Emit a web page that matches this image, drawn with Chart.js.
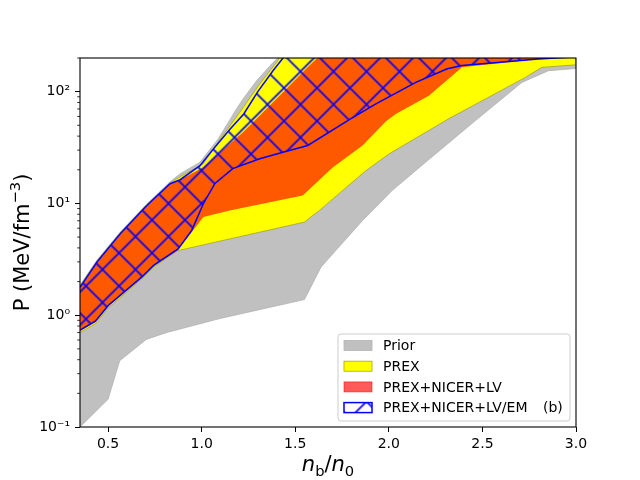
<!DOCTYPE html>
<html><head><meta charset="utf-8">
<script src="https://cdn.jsdelivr.net/npm/chart.js@4.4.1/dist/chart.umd.min.js"></script>
<style>html,body{margin:0;padding:0;background:#fff}#wrap{width:640px;height:480px}</style>
</head><body><div id="wrap"><canvas id="c" width="640" height="480"></canvas></div>
<script>
// ---- data (x = n_b/n_0, P in MeV/fm^-3) ----
const priorUpperX = [0.35,0.441,0.565,0.707,0.831,0.885,0.991,1.088,1.186,1.221,1.293,1.381,1.427,3.0];
const priorUpperP = [1.86,3.12,5.55,9.9,15.6,18.4,23.4,37.8,70.1,86.1,125,182,215,250];
const priorLowerX = [0.35,0.50,0.562,0.704,0.814,1.098,1.549,1.638,1.860,2.019,2.197,2.463,2.711,2.853,3.0];
const priorLowerP = [0.10,0.177,0.391,0.607,0.701,0.934,1.38,2.70,7.05,13.1,23.4,55.1,121,154,161];

const prexUpperX = [0.35,0.441,0.565,0.707,0.831,0.885,1.009,1.088,1.204,1.310,1.407,1.427,3.0];
const prexUpperP = [1.83,3.06,5.45,9.75,15.3,17.3,22.6,35.5,65.3,117,189,230,250];
const prexLowerX = [0.35,0.432,0.502,0.681,0.743,0.870,1.549,1.629,1.878,2.002,2.321,2.729,2.817,3.0];
const prexLowerP = [0.70,0.84,1.17,2.12,2.69,3.78,6.81,8.66,19.7,27.8,57.4,134,165,174];

const lvUpperX = [0.35,0.441,0.565,0.707,0.831,0.885,1.009,1.221,1.328,1.452,1.558,1.612,1.629,3.0];
const lvUpperP = [1.78,2.99,5.36,9.60,15.0,16.3,21.1,43.3,65.3,105.7,160,196,230,250];
const lvLowerX = [0.35,0.432,0.502,0.681,0.743,0.874,1.009,1.151,1.54,1.70,1.86,1.984,2.037,2.214,2.391,2.799,3.0];
const lvLowerP = [0.72,0.866,1.20,2.15,2.74,3.84,7.55,8.66,11.8,21.0,33.0,54.0,63.2,92.1,165,196,205];

const emUpperX = [0.35,0.441,0.565,0.707,0.831,0.885,0.991,1.062,1.151,1.225,1.30,1.381,1.44,3.0];
const emUpperP = [1.78,2.99,5.36,9.6,15.0,16.3,21.8,30.6,46,63.2,100,154,205,250];
const emLowerX = [0.35,0.432,0.502,0.681,0.743,0.874,0.947,1.009,1.071,1.166,1.310,1.434,1.567,1.789,1.931,2.144,2.312,2.391,2.799,3.0];
const emLowerP = [0.735,0.884,1.23,2.20,2.79,3.92,5.74,9.94,15.1,20.5,25.1,28.7,33.0,56.2,77.7,121,160,171,196,205];

const seriesLabels = ['Prior','PREX','PREX+NICER+LV','PREX+NICER+LV/EM'];
const panelTag = '(b)';
const xTickValues = [0.5,1.0,1.5,2.0,2.5,3.0];
const yTickValues = [0.1,1,10,100];
const yTickLabels = ['10\u207B\u00B9','10\u2070','10\u00B9','10\u00B2'];
const yMinorValues = [0.2,0.3,0.4,0.5,0.6,0.7,0.8,0.9,2,3,4,5,6,7,8,9,20,30,40,50,60,70,80,90,200];

// ---- helpers ----
function polygon(ux, up, lx, lp){
  const pts = [];
  ux.forEach((x,i)=>pts.push({x:x, y:up[i]}));
  for(let i=lx.length-1;i>=0;i--) pts.push({x:lx[i], y:lp[i]});
  return pts;
}
const canvas = document.getElementById('c');
const mainCtx = canvas.getContext('2d');
function makeHatch(){
  const s = 33, c = document.createElement('canvas');
  c.width = s; c.height = s;
  const g = c.getContext('2d');
  g.strokeStyle = '#0000ff'; g.lineWidth = 1.6;
  g.beginPath();
  for (let k=-1;k<=1;k++){
    g.moveTo(k*s,0); g.lineTo(k*s+s,s);
    g.moveTo(k*s,s); g.lineTo(k*s+s,0);
  }
  g.stroke();
  const p = mainCtx.createPattern(c,'repeat');
  if (p.setTransform) p.setTransform(new DOMMatrix().translate(3.5,5.5));
  return p;
}
const hatch = makeHatch();
const DV = '"DejaVu Sans", "Liberation Sans", sans-serif';

const legendStyles = [
  {fill:'#c0c0c0', stroke:'#b4b4b4'},
  {fill:'#ffff00', stroke:'#a8a800'},
  {fill:'rgba(255,0,0,0.65)', stroke:'rgba(255,0,0,0.65)'},
  {fill:hatch, stroke:'#0000ff', white:true}
];

const decor = {
  id:'decor',
  afterDraw(chart){
    const ctx = chart.ctx, a = chart.chartArea, ys = chart.scales.y;
    ctx.save();
    // minor y ticks
    ctx.strokeStyle = '#000'; ctx.lineWidth = 0.8;
    yMinorValues.forEach(v=>{
      const py = ys.getPixelForValue(v);
      ctx.beginPath(); ctx.moveTo(a.left-2.8,py); ctx.lineTo(a.left,py); ctx.stroke();
    });
    // frame
    ctx.lineWidth = 1.1; ctx.strokeStyle = '#000';
    ctx.strokeRect(a.left, a.top, a.right-a.left, a.bottom-a.top);

    // legend
    const lx = 338, ly = 334, lw = 232, lh = 87;
    ctx.beginPath();
    if (ctx.roundRect) ctx.roundRect(lx, ly, lw, lh, 3); else ctx.rect(lx,ly,lw,lh);
    ctx.fillStyle = 'rgba(255,255,255,0.8)'; ctx.fill();
    ctx.strokeStyle = '#cccccc'; ctx.lineWidth = 1; ctx.stroke();
    ctx.font = '14px ' + DV; ctx.textBaseline = 'middle'; ctx.textAlign = 'left';
    chart.data.datasets.forEach((ds,i)=>{
      const st = legendStyles[i];
      const cy = 345.5 + i*20.7;
      const bx = 344, by = cy-5, bw = 28, bh = 10;
      if (st.white){ ctx.fillStyle = '#fff'; ctx.fillRect(bx,by,bw,bh); }
      ctx.fillStyle = st.fill; ctx.fillRect(bx,by,bw,bh);
      ctx.strokeStyle = st.stroke; ctx.lineWidth = st.white ? 1.5 : 0.8;
      ctx.strokeRect(bx,by,bw,bh);
      ctx.fillStyle = '#000';
      ctx.fillText(ds.label, 383, cy+1);
    });
    ctx.fillText(panelTag, 543, 345.5 + 3*20.7 + 1);

    // x axis title: n_b / n_0
    const big = 21, small = 14.7;
    const parts = [
      {t:'n', f:'italic '+big+'px '+DV, dy:0},
      {t:'b', f:small+'px '+DV, dy:4.5},
      {t:'/', f:big+'px '+DV, dy:0},
      {t:'n', f:'italic '+big+'px '+DV, dy:0},
      {t:'0', f:small+'px '+DV, dy:4.5}
    ];
    ctx.textBaseline = 'alphabetic';
    let tw = 0;
    parts.forEach(p=>{ ctx.font = p.f; p.w = ctx.measureText(p.t).width; tw += p.w; });
    let x0 = (a.left+a.right)/2 - tw/2;
    parts.forEach(p=>{ ctx.font = p.f; ctx.fillText(p.t, x0, 471+p.dy); x0 += p.w; });

    // y axis title: P (MeV/fm^-3)
    const yparts = [
      {t:'P (MeV/fm', f:big+'px '+DV, dy:0},
      {t:'\u22123', f:small+'px '+DV, dy:-8.5},
      {t:')', f:big+'px '+DV, dy:0}
    ];
    let yw = 0;
    yparts.forEach(p=>{ ctx.font = p.f; p.w = ctx.measureText(p.t).width; yw += p.w; });
    ctx.translate(28.5, (a.top+a.bottom)/2);
    ctx.rotate(-Math.PI/2);
    let s0 = -yw/2;
    yparts.forEach(p=>{ ctx.font = p.f; ctx.fillText(p.t, s0, p.dy); s0 += p.w; });
    ctx.restore();
  }
};

const common = {pointRadius:0, pointHoverRadius:0, tension:0, fill:'shape', spanGaps:true};

new Chart(canvas, {
  type:'line',
  data:{
    datasets:[
      Object.assign({label:seriesLabels[0], data:polygon(priorUpperX,priorUpperP,priorLowerX,priorLowerP),
        backgroundColor:'#c0c0c0', borderColor:'#acacac', borderWidth:0.7, order:4}, common),
      Object.assign({label:seriesLabels[1], data:polygon(prexUpperX,prexUpperP,prexLowerX,prexLowerP),
        backgroundColor:'#ffff00', borderColor:'rgba(130,130,0,0.7)', borderWidth:0.7, order:3}, common),
      Object.assign({label:seriesLabels[2], data:polygon(lvUpperX,lvUpperP,lvLowerX,lvLowerP),
        backgroundColor:'rgba(255,0,0,0.65)', borderColor:'rgba(255,0,0,0)', borderWidth:0, order:2}, common),
      Object.assign({label:seriesLabels[3], data:polygon(emUpperX,emUpperP,emLowerX,emLowerP),
        backgroundColor:hatch, borderColor:'#0000ff', borderWidth:1.5, order:1}, common)
    ]
  },
  options:{
    responsive:false, animation:false, devicePixelRatio:1, events:[],
    layout:{padding:{left:0, right:64, top:58, bottom:0}},
    plugins:{legend:{display:false}, tooltip:{enabled:false}},
    scales:{
      x:{
        type:'linear', min:0.35, max:3.0,
        afterFit:(s)=>{ s.height = 53; },
        afterBuildTicks:(s)=>{ s.ticks = xTickValues.map(v=>({value:v})); },
        ticks:{autoSkip:false, maxRotation:0, padding:4, color:'#000',
          font:{family:'DejaVu Sans', size:14},
          callback:(v)=>Number(v).toFixed(1)},
        grid:{drawOnChartArea:false, drawTicks:true, tickLength:5, tickColor:'#000', tickWidth:1},
        border:{display:false}
      },
      y:{
        type:'logarithmic', min:0.1, max:200,
        afterFit:(s)=>{ s.width = 80; },
        afterBuildTicks:(s)=>{ s.ticks = yTickValues.map(v=>({value:v, major:true})); },
        ticks:{autoSkip:false, padding:5, color:'#000',
          font:{family:'DejaVu Sans', size:14},
          callback:(v)=>{ const i = yTickValues.findIndex(t=>Math.abs(t-v)/t<1e-6); return i>=0 ? yTickLabels[i] : ''; }},
        grid:{drawOnChartArea:false, drawTicks:true, tickLength:5, tickColor:'#000', tickWidth:1},
        border:{display:false}
      }
    }
  },
  plugins:[decor]
});
</script>
</body></html>
